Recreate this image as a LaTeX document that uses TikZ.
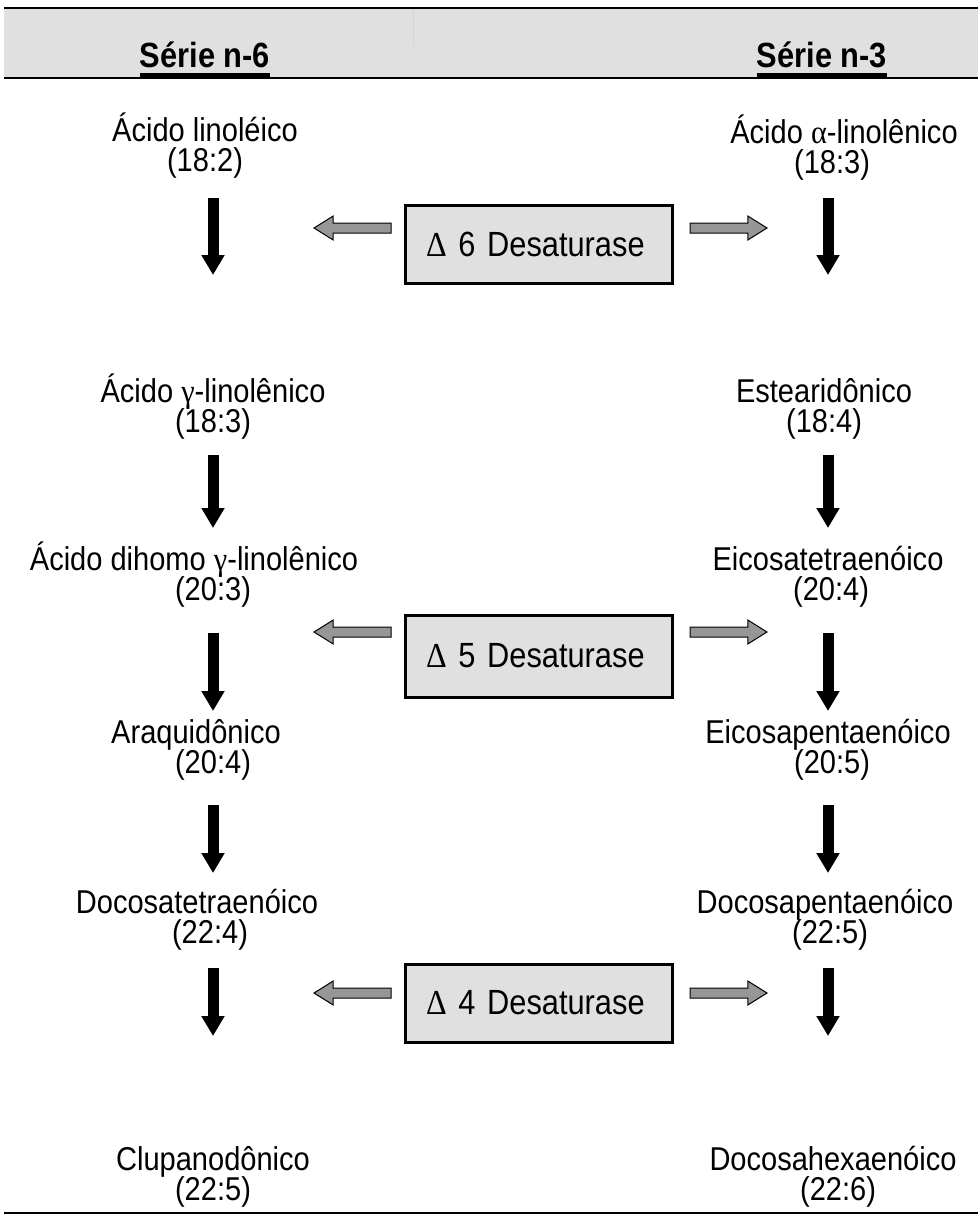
\documentclass[tikz,border=0pt]{standalone}
\usepackage{fontspec}
\setmainfont{Liberation Sans}[FakeStretch=0.88]
\newfontfamily\grk{Liberation Serif}[FakeStretch=0.92]
\usetikzlibrary{arrows.meta,shapes.arrows}
\definecolor{band}{RGB}{224,224,224}
\definecolor{boxfill}{RGB}{224,224,224}
\definecolor{arrfill}{RGB}{150,150,150}
\definecolor{faint}{RGB}{212,212,212}
\tikzset{
  lbl/.style={inner sep=0pt, anchor=base, font=\fontsize{33pt}{36pt}\selectfont},
  ttl/.style={inner sep=0pt, anchor=base, font=\fontsize{35pt}{38pt}\selectfont\bfseries},
  dbox/.style={draw=black, line width=3pt, fill=boxfill, minimum width=267pt, inner sep=0pt,
    text width=225pt, align=left, font=\fontsize{35pt}{38pt}\selectfont},
  blk/.style={line width=11pt, -{Triangle[width=22pt,length=20pt]}},
  garrow/.style={single arrow, draw=black, line width=1pt, fill=arrfill, inner sep=4.5pt,
    minimum height=77pt, single arrow head extend=7pt, single arrow tip angle=64},
  rule/.style={draw=black}
}
\begin{document}
\begin{tikzpicture}[x=1pt,y=-1pt]
\useasboundingbox (0,0) rectangle (978,1215);
% header band
\fill[band] (4,8) rectangle (978,78);
\draw[faint, line width=1pt] (413,10) -- (413,45);
\draw[rule, line width=1.7pt] (4,8) -- (978,8);
\draw[rule, line width=2.2pt] (4,78) -- (978,78);
\draw[rule, line width=1.5pt] (4,1213) -- (978,1213);
% titles
\node[ttl] (t6) at (205,67) {Série n-6};
\node[ttl] (t3) at (822,67) {Série n-3};
\draw[line width=4pt] ([yshift=-8pt]t6.base west) -- ([yshift=-8pt]t6.base east);
\draw[line width=4pt] ([yshift=-8pt]t3.base west) -- ([yshift=-8pt]t3.base east);
% left column labels (baselines)
\node[lbl] (n1a) at (205,141) {Ácido linoléico};
\node[lbl] (n1b) at (205,171) {(18:2)};
\node[lbl] (n2a) at (213,402) {Ácido {\grk γ}-linolênico};
\node[lbl] (n2b) at (213,432) {(18:3)};
\node[lbl] (n3a) at (194,570) {Ácido dihomo {\grk γ}-linolênico};
\node[lbl] (n3b) at (213,600) {(20:3)};
\node[lbl] (n4a) at (196,743) {Araquidônico};
\node[lbl] (n4b) at (213,773) {(20:4)};
\node[lbl] (n5a) at (197,913) {Docosatetraenóico};
\node[lbl] (n5b) at (210,943) {(22:4)};
\node[lbl] (n6a) at (213,1170) {Clupanodônico};
\node[lbl] (n6b) at (213,1200) {(22:5)};
% right column labels (baselines)
\node[lbl] (m1a) at (844,143) {Ácido {\grk α}-linolênico};
\node[lbl] (m1b) at (832,173) {(18:3)};
\node[lbl] (m2a) at (824,402) {Estearidônico};
\node[lbl] (m2b) at (824,432) {(18:4)};
\node[lbl] (m3a) at (828,570) {Eicosatetraenóico};
\node[lbl] (m3b) at (831,600) {(20:4)};
\node[lbl] (m4a) at (828,743) {Eicosapentaenóico};
\node[lbl] (m4b) at (832,773) {(20:5)};
\node[lbl] (m5a) at (825,913) {Docosapentaenóico};
\node[lbl] (m5b) at (830,943) {(22:5)};
\node[lbl] (m6a) at (833,1170) {Docosahexaenóico};
\node[lbl] (m6b) at (838,1200) {(22:6)};
% enzyme boxes
\node[dbox, minimum height=78pt] (d6) at (538.5,244) {{\grk Δ} 6 Desaturase};
\node[dbox, minimum height=82pt] (d5) at (538.5,656) {{\grk Δ} 5 Desaturase};
\node[dbox, minimum height=78pt] (d4) at (538.5,1003) {{\grk Δ} 4 Desaturase};
% gray arrows
\node[garrow, shape border rotate=180] (g6l) at (356.5,228) {};
\node[garrow] (g6r) at (724.5,228) {};
\node[garrow, shape border rotate=180] (g5l) at (356.5,632) {};
\node[garrow] (g5r) at (724.5,632) {};
\node[garrow, shape border rotate=180] (g4l) at (356.5,993) {};
\node[garrow] (g4r) at (724.5,993) {};
% black arrow end points
\coordinate (l1s) at (213,198);  \coordinate (l1e) at (213,275);
\coordinate (l2s) at (213,455);  \coordinate (l2e) at (213,528);
\coordinate (l3s) at (213,633);  \coordinate (l3e) at (213,711);
\coordinate (l4s) at (213,805);  \coordinate (l4e) at (213,873);
\coordinate (l5s) at (213,968);  \coordinate (l5e) at (213,1036);
\coordinate (r1s) at (828,198);  \coordinate (r1e) at (828,275);
\coordinate (r2s) at (828,455);  \coordinate (r2e) at (828,528);
\coordinate (r3s) at (828,633);  \coordinate (r3e) at (828,711);
\coordinate (r4s) at (828,805);  \coordinate (r4e) at (828,873);
\coordinate (r5s) at (828,968);  \coordinate (r5e) at (828,1036);
\foreach \a in {l1,l2,l3,l4,l5,r1,r2,r3,r4,r5}
  \draw[blk] (\a s) -- (\a e);
\end{tikzpicture}
\end{document}
